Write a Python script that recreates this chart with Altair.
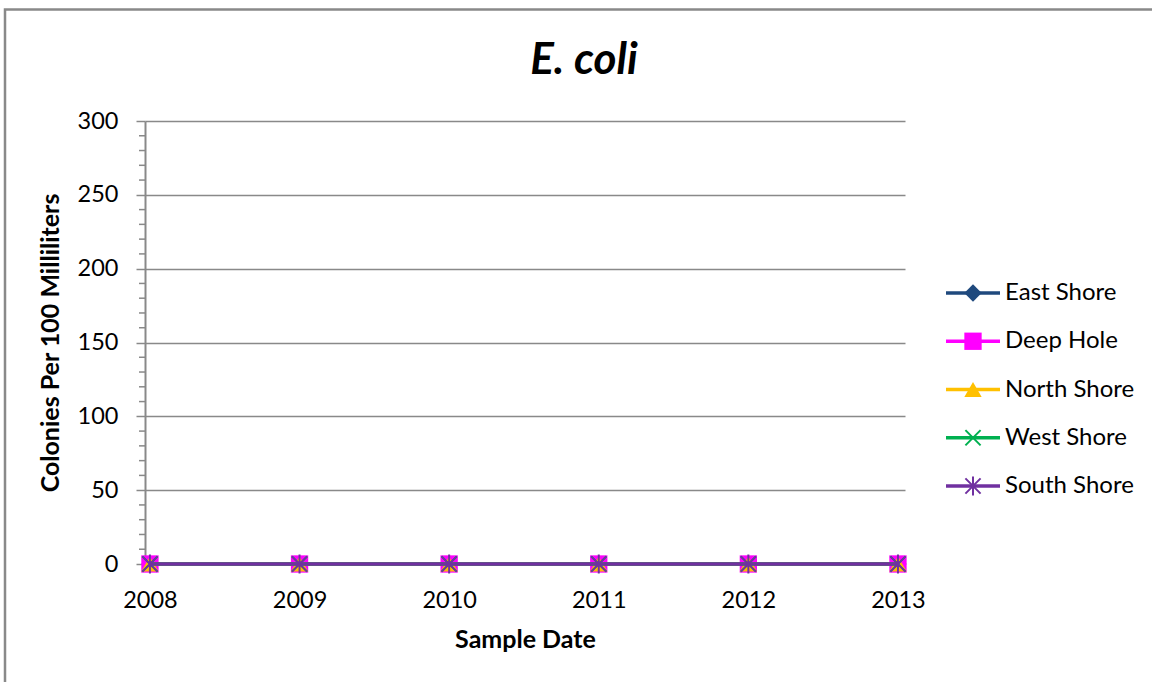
import altair as alt
import pandas as pd

# Sampling years and E. coli counts per site (colonies per 100 mL)
years = [2008, 2009, 2010, 2011, 2012, 2013]
east_shore = [0, 0, 0, 0, 0, 0]
deep_hole = [0, 0, 0, 0, 0, 0]
north_shore = [0, 0, 0, 0, 0, 0]
west_shore = [0, 0, 0, 0, 0, 0]
south_shore = [0, 0, 0, 0, 0, 0]

sites = ["East Shore", "Deep Hole", "North Shore", "West Shore", "South Shore"]
site_colors = ["#1F497D", "#FF00FF", "#FFC000", "#00B050", "#7030A0"]
site_shapes = [
    "diamond",
    "square",
    "triangle-up",
    "M-1,-1L1,1M-1,1L1,-1",
    "M-1,-1L1,1M-1,1L1,-1M0,-1.25L0,1.25",
]
site_filled = [True, True, True, False, False]

y_major = [0, 50, 100, 150, 200, 250, 300]
y_minor = [v for v in range(0, 301, 10) if v % 50 != 0]

FONT = "Lato"
GRAY = "#898989"

series = [east_shore, deep_hole, north_shore, west_shore, south_shore]
rows = []
for site, values in zip(sites, series):
    for yr, v in zip(years, values):
        rows.append({"Year": yr, "Site": site, "Colonies": v})
df = pd.DataFrame(rows)

x_enc = alt.X(
    "Year:Q",
    scale=alt.Scale(domain=[2007.967, 2013.047], nice=False, zero=False),
    axis=alt.Axis(
        values=years, format="d", title="Sample Date", ticks=False, grid=False,
        domain=True, domainColor=GRAY, domainWidth=2,
        labelFont=FONT, labelFontSize=23.5, labelColor="black", labelPadding=24,
        titleFont=FONT, titleFontSize=25, titleFontWeight="bold", titleColor="black",
        titlePadding=16,
    ),
)
y_enc = alt.Y(
    "Colonies:Q",
    scale=alt.Scale(domain=[0, 300], nice=False),
    axis=alt.Axis(
        values=y_major, title="Colonies Per 100 Milliliters", grid=True,
        gridColor=GRAY, gridWidth=1.5, domainColor=GRAY, domainWidth=2,
        tickColor=GRAY, tickWidth=1.5, tickSize=9,
        labelFont=FONT, labelFontSize=23.5, labelColor="black", labelPadding=18,
        titleFont=FONT, titleFontSize=25, titleFontWeight="bold", titleColor="black",
        titlePadding=14,
    ),
)
color_enc = alt.Color("Site:N", scale=alt.Scale(domain=sites, range=site_colors), legend=None)
shape_enc = alt.Shape("Site:N", scale=alt.Scale(domain=sites, range=site_shapes), legend=None)

FILLED_SIZE = 300
OPEN_SIZE = 230


def marker(base, filled):
    if filled:
        return base.mark_point(filled=True, size=FILLED_SIZE, opacity=1)
    return base.mark_point(filled=False, size=OPEN_SIZE, strokeWidth=2, opacity=1)


# Each site: its line, then its markers, so later sites sit on top
data_layers = []
for site, filled in zip(sites, site_filled):
    base = alt.Chart(df).transform_filter(alt.datum.Site == site)
    line = base.mark_line(strokeWidth=3.5).encode(x=x_enc, y=y_enc, color=color_enc)
    pts = marker(base, filled).encode(x=x_enc, y=y_enc, color=color_enc, shape=shape_enc)
    data_layers += [line, pts]

# Minor ticks on the value axis
minor = alt.Chart(pd.DataFrame({"Colonies": y_minor})).mark_rule(
    color=GRAY, strokeWidth=1.5
).encode(y=y_enc, x=alt.value(-6), x2=alt.value(0))

plot = alt.layer(minor, *data_layers)

# Legend at the right: line sample, marker and site name
leg_df = pd.DataFrame({"Site": sites})
leg_y = alt.Y(
    "Site:N",
    scale=alt.Scale(type="point", domain=sites, range=[172, 365], padding=0),
    axis=None,
)
leg_base = alt.Chart(leg_df)
leg_lines = leg_base.mark_rule(strokeWidth=3.5).encode(
    y=leg_y, x=alt.value(801), x2=alt.value(855), color=color_enc
)
leg_layers = [leg_lines]
for site, filled in zip(sites, site_filled):
    b = leg_base.transform_filter(alt.datum.Site == site)
    leg_layers.append(
        marker(b, filled).encode(y=leg_y, x=alt.value(828), color=color_enc, shape=shape_enc)
    )
leg_text = leg_base.mark_text(
    align="left", baseline="middle", font=FONT, fontSize=24, color="black"
).encode(y=leg_y, x=alt.value(860), text="Site:N")
leg_layers.append(leg_text)

# Outer frame of the chart
frame = alt.Chart(pd.DataFrame({"k": [0]})).mark_rect(
    fillOpacity=0, stroke=GRAY, strokeWidth=2.5
).encode(x=alt.value(-140), x2=alt.value(1030), y=alt.value(-111.5), y2=alt.value(600))

# Chart title
title = alt.Chart(pd.DataFrame({"k": [0]})).mark_text(
    font=FONT, fontSize=44, fontStyle="italic", fontWeight="bold", color="black",
    align="center", baseline="alphabetic",
).encode(x=alt.value(439), y=alt.value(-47.5), text=alt.value("E. coli"))

legend = alt.layer(frame, title, *leg_layers)

chart = alt.layer(plot, legend).resolve_scale(y="independent").properties(
    width=760,
    height=443,
    padding={"left": 145, "top": 121, "right": 247, "bottom": 118},
    autosize=alt.AutoSizeParams(type="none"),
).configure(background="white").configure_view(stroke=None)

chart.save("out.html", embed_options={"renderer": "svg", "actions": False})
